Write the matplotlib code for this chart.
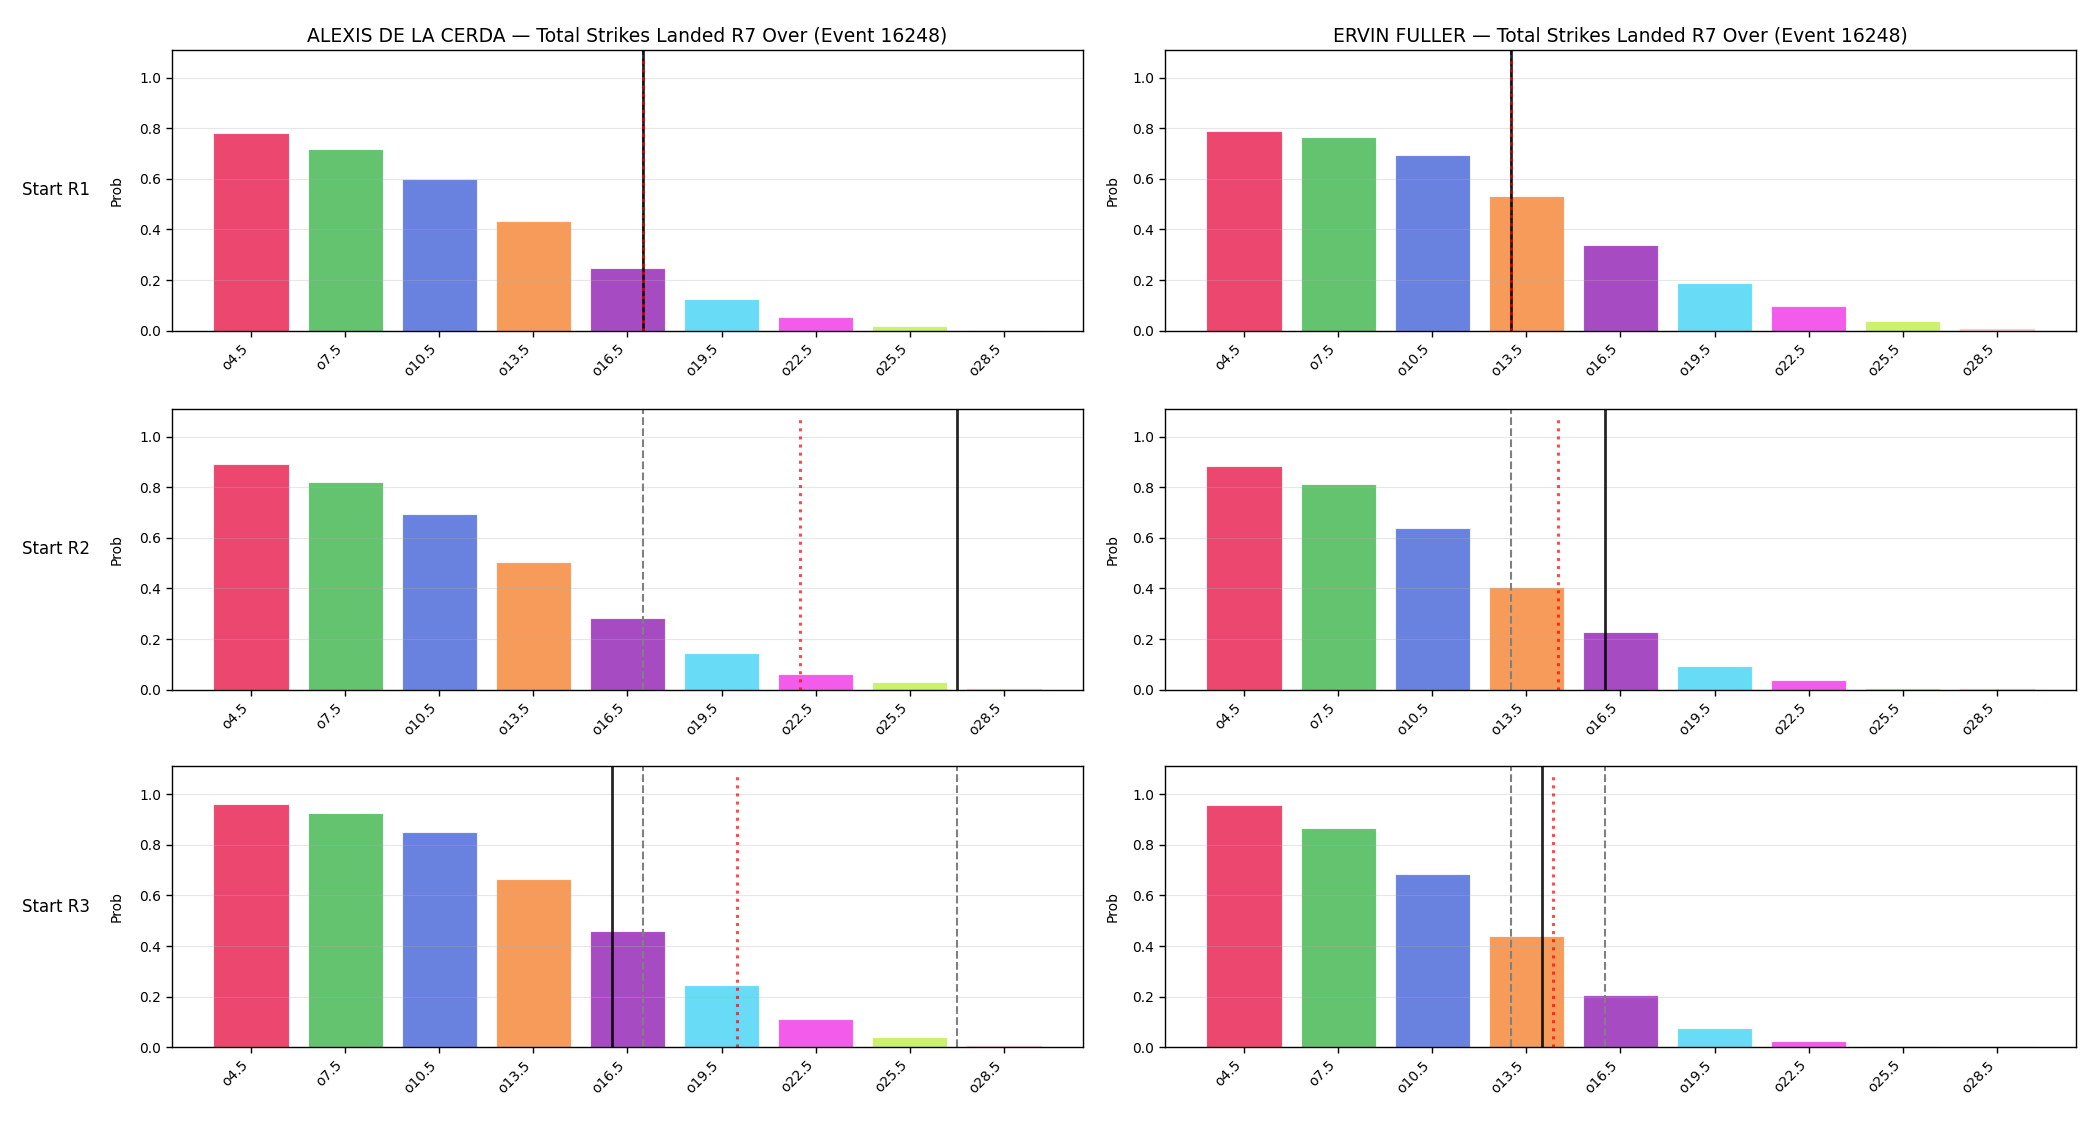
import matplotlib
matplotlib.use("Agg")
import matplotlib.pyplot as plt
import numpy as np

fighters = ["ALEXIS DE LA CERDA", "ERVIN FULLER"]
event_id = 16248
start_rounds = ["Start R1", "Start R2", "Start R3"]
strike_lines = [4.5, 7.5, 10.5, 13.5, 16.5, 19.5, 22.5, 25.5, 28.5]
tick_labels = ["o4.5", "o7.5", "o10.5", "o13.5", "o16.5", "o19.5", "o22.5", "o25.5", "o28.5"]

# probabilities [fighter][start round][line]
alexis_r1 = [0.780, 0.719, 0.598, 0.434, 0.249, 0.125, 0.055, 0.020, 0.002]
alexis_r2 = [0.891, 0.819, 0.696, 0.503, 0.283, 0.145, 0.063, 0.030, 0.006]
alexis_r3 = [0.962, 0.926, 0.851, 0.666, 0.461, 0.246, 0.113, 0.042, 0.008]
ervin_r1 = [0.790, 0.767, 0.693, 0.533, 0.339, 0.189, 0.098, 0.038, 0.009]
ervin_r2 = [0.882, 0.811, 0.639, 0.405, 0.229, 0.093, 0.038, 0.008, 0.007]
ervin_r3 = [0.958, 0.867, 0.686, 0.441, 0.207, 0.078, 0.025, 0.007, 0.005]
probs = [[alexis_r1, alexis_r2, alexis_r3], [ervin_r1, ervin_r2, ervin_r3]]

# reference markers (in strikes)
alexis_market = [[17], [17], [17, 27]]
alexis_model = [17, 27, 16]
alexis_fair = [17, 22, 20]
ervin_market = [[13], [13], [13, 16]]
ervin_model = [13, 16, 14]
ervin_fair = [13, 14.5, 14.35]
market_lines = [alexis_market, ervin_market]
model_lines = [alexis_model, ervin_model]
fair_lines = [alexis_fair, ervin_fair]

bar_colors = ["#e6194b", "#3cb44b", "#4363d8", "#f58231", "#911eb4",
              "#42d4f4", "#f032e6", "#bfef45", "#fabebe"]

fig = plt.figure(figsize=(21, 11.25), dpi=100)

lefts = [172 / 2100, 1165 / 2100]
width = 0.4338
bottoms = [1 - 330.7 / 1125, 1 - 689.7 / 1125, 1 - 1047.3 / 1125]
height = 281 / 1125

x = np.arange(len(strike_lines))
step = strike_lines[1] - strike_lines[0]


def to_idx(v):
    return (v - strike_lines[0]) / step


for c in range(2):
    for r in range(3):
        ax = fig.add_axes([lefts[c], bottoms[r], width, height])
        ax.bar(x, probs[c][r], width=0.8, color=bar_colors, alpha=0.8,
               edgecolor="white", linewidth=0.8)
        for m in market_lines[c][r]:
            ax.axvline(to_idx(m), color="gray", linestyle="--", linewidth=1.5)
        ax.axvline(to_idx(model_lines[c][r]), color="black", linewidth=2, alpha=0.85)
        ax.axvline(to_idx(fair_lines[c][r]), color="red", linestyle=":",
                   linewidth=2.2, alpha=0.7, ymax=0.97)
        ax.set_xlim(-0.84, 8.84)
        ax.set_ylim(0, 1.11)
        ax.set_xticks(x)
        ax.set_xticklabels(tick_labels, rotation=45, ha="right", fontsize=10)
        ax.tick_params(axis="both", length=4.2, width=1.0)
        ax.tick_params(axis="y", labelsize=10)
        for sp in ax.spines.values():
            sp.set_linewidth(1.0)
        ax.set_ylabel("Prob", fontsize=10, labelpad=11 if c == 0 else 9)
        ax.grid(axis="y", alpha=0.3)
        if r == 0:
            ax.set_title(f"{fighters[c]} — Total Strikes Landed R7 Over (Event {event_id})",
                         fontsize=13.5)
        if c == 0:
            fig.text(90 / 2100, bottoms[r] + height / 2, start_rounds[r],
                     ha="right", va="center", fontsize=12)

fig.savefig("out.png", dpi=100)
